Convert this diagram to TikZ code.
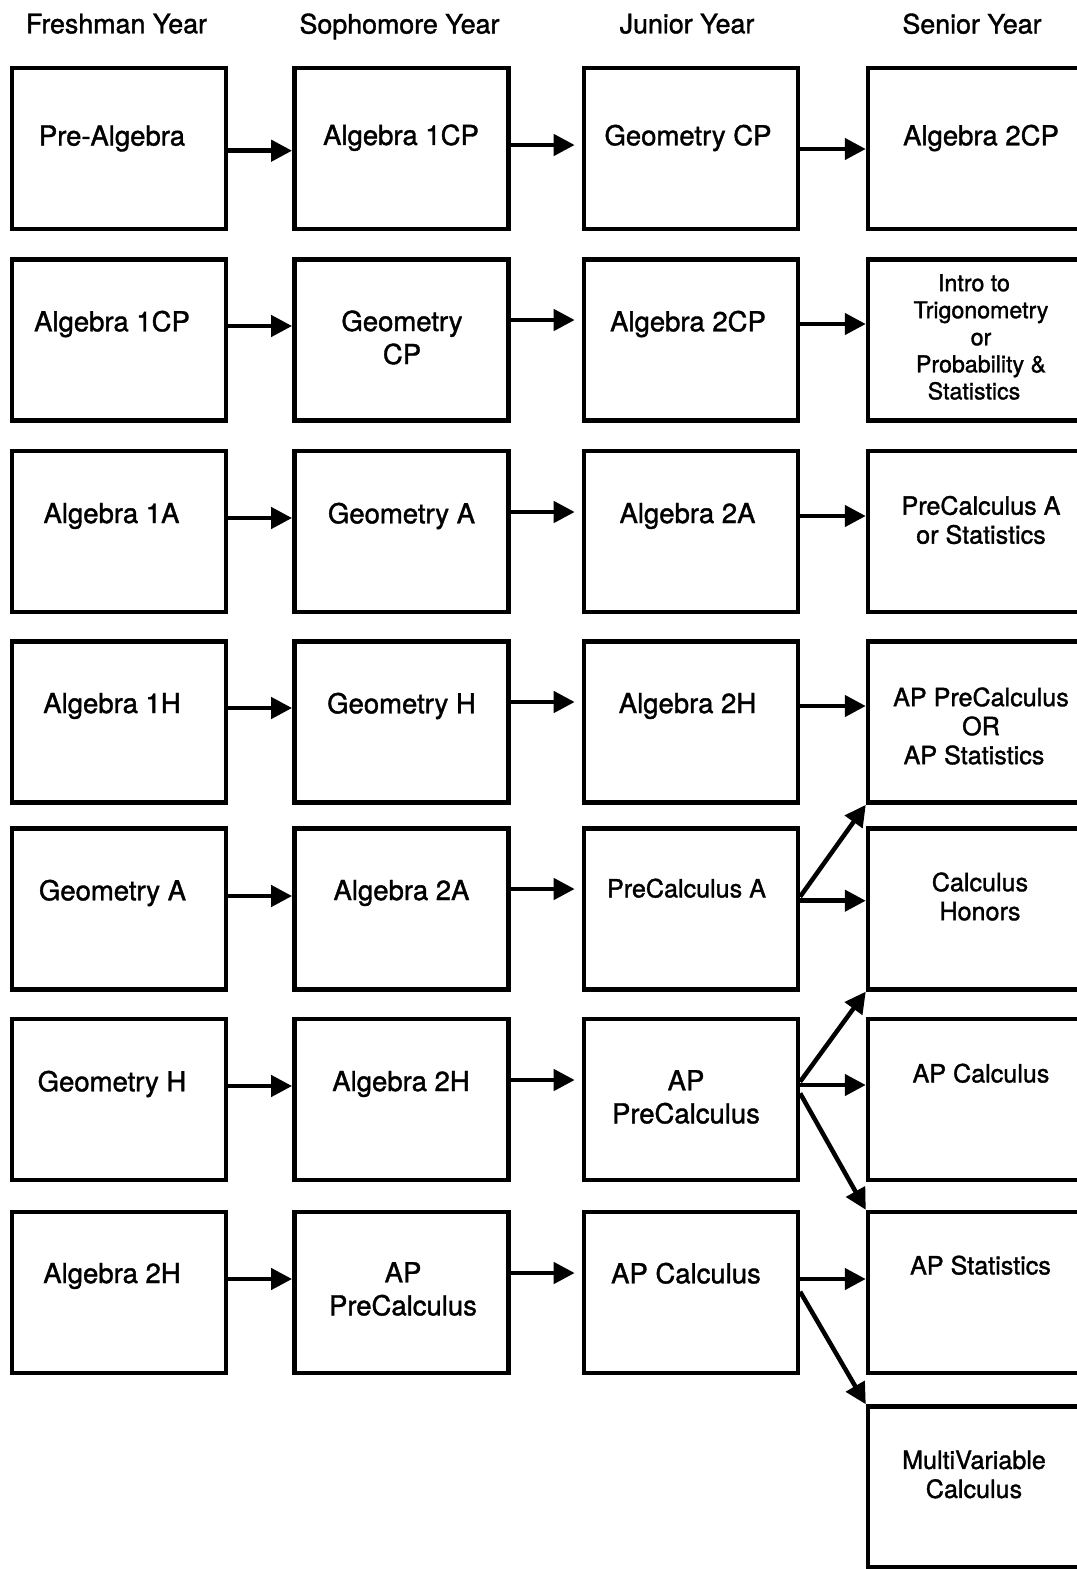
\documentclass[tikz,border=0pt]{standalone}
\usepackage{fontspec}
\setmainfont{TeX Gyre Heros}[FakeBold=1.4]
\usetikzlibrary{arrows.meta}

\tikzset{
	box/.style={draw, line width=0.09cm, minimum width=4.28cm, minimum height=3.22cm, inner sep=0pt},
	lastbox/.style={box, minimum width=4.6cm},
	yearlbl/.style={inner sep=0pt, text depth=0pt, font=\fontsize{15.25pt}{18pt}\selectfont},
	course/.style={inner sep=0pt, align=center, font=\fontsize{15.65pt}{18.8pt}\selectfont},
	coursemed/.style={inner sep=0pt, align=center, font=\fontsize{14.3pt}{16.5pt}\selectfont},
	coursesmall/.style={inner sep=0pt, align=center, font=\fontsize{13.2pt}{15.4pt}\selectfont},
	oneline/.style={text depth=0pt},
	arr/.style={line width=0.09cm, -{Triangle[length=0.42cm,width=0.42cm]}}
}

\begin{document}
\begin{tikzpicture}[x=0.02cm, y=-0.02cm]
			\useasboundingbox (0,0) rectangle (1077,1569);
			\fill [white] (0,0) rectangle (1077,1569);
			\clip (0,0) rectangle (1077,1569);
			\node [yearlbl] (h1) at (116.5,23.5) {Freshman Year};
			\node [yearlbl] (h2) at (399.5,23.5) {Sophomore Year};
			\node [yearlbl] (h3) at (687,23.5) {Junior Year};
			\node [yearlbl] (h4) at (972,23.5) {Senior Year};
			\node [box] (b11) at (118.8,148.3) {};
			\node [box] (b12) at (401.3,148.3) {};
			\node [box] (b13) at (690.9,148.3) {};
			\node [lastbox] (b14) at (983,148.3) {};
			\node [box] (b21) at (118.8,340) {};
			\node [box] (b22) at (401.3,340) {};
			\node [box] (b23) at (690.9,340) {};
			\node [lastbox] (b24) at (983,340) {};
			\node [box] (b31) at (118.8,531.3) {};
			\node [box] (b32) at (401.3,531.3) {};
			\node [box] (b33) at (690.9,531.3) {};
			\node [lastbox] (b34) at (983,531.3) {};
			\node [box] (b41) at (118.8,722.1) {};
			\node [box] (b42) at (401.3,722.1) {};
			\node [box] (b43) at (690.9,722.1) {};
			\node [lastbox] (b44) at (983,722.1) {};
			\node [box] (b51) at (118.8,908.9) {};
			\node [box] (b52) at (401.3,908.9) {};
			\node [box] (b53) at (690.9,908.9) {};
			\node [lastbox] (b54) at (983,908.9) {};
			\node [box] (b61) at (118.8,1099.5) {};
			\node [box] (b62) at (401.3,1099.5) {};
			\node [box] (b63) at (690.9,1099.5) {};
			\node [lastbox] (b64) at (983,1099.5) {};
			\node [box] (b71) at (118.8,1292.5) {};
			\node [box] (b72) at (401.3,1292.5) {};
			\node [box] (b73) at (690.9,1292.5) {};
			\node [lastbox] (b74) at (983,1292.5) {};
			\node [lastbox] (b84) at (983,1487) {};
			\node [course, oneline] (t11) at (112,135.5) {Pre-Algebra};
			\node [course, oneline] (t12) at (401,134.7) {Algebra 1CP};
			\node [course, oneline] (t13) at (688,135) {Geometry CP};
			\node [course, oneline] (t14) at (981,135) {Algebra 2CP};
			\node [course, oneline] (t21) at (112,321) {Algebra 1CP};
			\node [course] (t22) at (402,337.5) {Geometry\\CP};
			\node [course, oneline] (t23) at (688,321) {Algebra 2CP};
			\node [coursesmall] (t24) at (981,337) {Intro to\hspace*{0.28cm}\\Trigonometry\\or\\Probability \&\hspace*{0.28cm}\\Statistics\hspace*{0.28cm}};
			\node [course, oneline] (t31) at (111.5,513) {Algebra 1A};
			\node [course, oneline] (t32) at (401.5,513) {Geometry A};
			\node [course, oneline] (t33) at (687.5,513) {Algebra 2A};
			\node [coursemed] (t34) at (981,520) {PreCalculus A\\or Statistics};
			\node [course, oneline] (t41) at (112,703) {Algebra 1H};
			\node [course, oneline] (t42) at (401.5,703) {Geometry H};
			\node [course, oneline] (t43) at (687.5,703) {Algebra 2H};
			\node [coursemed] (t44) at (981,726) {AP PreCalculus\\OR\\AP Statistics\hspace*{0.28cm}};
			\node [course, oneline] (t51) at (112.5,890) {Geometry A};
			\node [course, oneline] (t52) at (401.5,890) {Algebra 2A};
			\node [coursemed, oneline] (t53) at (686.5,888) {PreCalculus A};
			\node [coursemed] (t54) at (980,896.5) {Calculus\\Honors};
			\node [course, oneline] (t61) at (112,1081) {Geometry H};
			\node [course, oneline] (t62) at (401,1081) {Algebra 2H};
			\node [course] (t63) at (686,1097) {AP\\PreCalculus};
			\node [coursemed, oneline] (t64) at (981,1073) {AP Calculus};
			\node [course, oneline] (t71) at (112,1273) {Algebra 2H};
			\node [course] (t72) at (403,1289) {AP\\PreCalculus};
			\node [course, oneline] (t73) at (686,1273) {AP Calculus};
			\node [coursemed, oneline] (t74) at (980.5,1265) {AP Statistics};
			\node [coursemed] (t84) at (974,1474.5) {MultiVariable\\Calculus};
			\draw [arr] (b11.east |- 0,150.7)--(b12.west |- 0,150.7);
			\draw [arr] [shorten >=0.14cm] (b12.east |- 0,145)--(b13.west |- 0,145);
			\draw [arr] (b13.east |- 0,149)--(b14.west |- 0,149);
			\draw [arr] (b21.east |- 0,326)--(b22.west |- 0,326);
			\draw [arr] [shorten >=0.14cm] (b22.east |- 0,320)--(b23.west |- 0,320);
			\draw [arr] (b23.east |- 0,324)--(b24.west |- 0,324);
			\draw [arr] (b31.east |- 0,518)--(b32.west |- 0,518);
			\draw [arr] [shorten >=0.14cm] (b32.east |- 0,512)--(b33.west |- 0,512);
			\draw [arr] (b33.east |- 0,516)--(b34.west |- 0,516);
			\draw [arr] (b41.east |- 0,708)--(b42.west |- 0,708);
			\draw [arr] [shorten >=0.14cm] (b42.east |- 0,702)--(b43.west |- 0,702);
			\draw [arr] (b43.east |- 0,706)--(b44.west |- 0,706);
			\draw [arr] (b51.east |- 0,896)--(b52.west |- 0,896);
			\draw [arr] [shorten >=0.14cm] (b52.east |- 0,889)--(b53.west |- 0,889);
			\draw [arr] (b53.east |- 0,900.7)--(b54.west |- 0,900.7);
			\draw [arr] (b53.east |- 0,896.7)--(b44.south west);
			\draw [arr] (b61.east |- 0,1086)--(b62.west |- 0,1086);
			\draw [arr] [shorten >=0.14cm] (b62.east |- 0,1080)--(b63.west |- 0,1080);
			\draw [arr] (b63.east |- 0,1085)--(b64.west |- 0,1085);
			\draw [arr] (b63.east |- 0,1081.7)--(b54.south west);
			\draw [arr] (b63.east |- 0,1093.3)--(b74.north west);
			\draw [arr] (b71.east |- 0,1279)--(b72.west |- 0,1279);
			\draw [arr] [shorten >=0.14cm] (b72.east |- 0,1273)--(b73.west |- 0,1273);
			\draw [arr] (b73.east |- 0,1279)--(b74.west |- 0,1279);
			\draw [arr] (b73.east |- 0,1291.7)--(b84.north west);
		\end{tikzpicture}
\end{document}
